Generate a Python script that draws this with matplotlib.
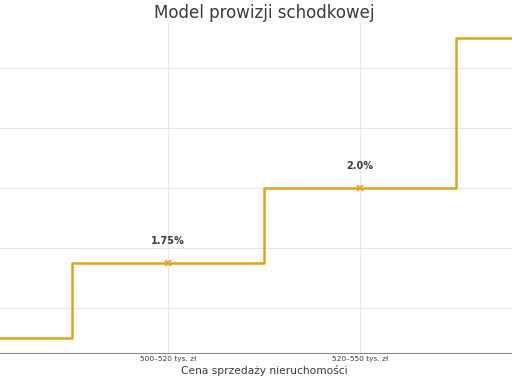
import matplotlib.pyplot as plt

COLORS = {
    "line": "#E3A21A",
    "grid": "#E6E6E6",
    "spine": "#8C8C8C",
    "text": "#3A3A3A",
}

tiers = ["<500 tys. zł", "500–520 tys. zł", "520–550 tys. zł", ">550 tys. zł"]
rates = [1.5, 1.75, 2.0, 2.5]
rate_labels = ["", "1.75%", "2.0%", ""]
tick_labels = ["500–520 tys. zł", "520–550 tys. zł"]

positions = list(range(len(tiers)))

fig = plt.figure(figsize=(5.12, 3.84), dpi=100)
ax = fig.add_axes([-120 / 512, 31 / 384, 768 / 512, 330 / 384])

ax.step(positions, rates, where="mid", color=COLORS["line"], linewidth=1.8)
ax.plot(positions, rates, linestyle="none", marker="x", markersize=5,
        markeredgewidth=1.2, color=COLORS["line"])
for x, y, label in zip(positions, rates, rate_labels):
    if label:
        ax.annotate(label, xy=(x, y), xytext=(0, 12.5), textcoords="offset points",
                    ha="center", va="bottom", fontsize=7, fontweight="bold",
                    color=COLORS["text"])

ax.set_xlim(-0.5, 3.5)
ax.set_ylim(1.45, 2.55)
ax.set_xticks([1, 2])
ax.set_xticklabels(tick_labels, fontsize=5.3, color=COLORS["text"])
ax.set_yticks([1.6, 1.8, 2.0, 2.2, 2.4])
ax.grid(True, color=COLORS["grid"], linewidth=0.7)
ax.set_axisbelow(True)
ax.spines[["top", "right"]].set_visible(False)
ax.spines[["left", "bottom"]].set_color(COLORS["spine"])
ax.tick_params(axis="x", length=0, pad=2.5, labelcolor=COLORS["text"])
ax.tick_params(axis="y", length=0, labelleft=False)

ax.set_xlabel("Cena sprzedaży nieruchomości", fontsize=7.7,
              color=COLORS["text"], labelpad=1.5)
ax.set_title("Model prowizji schodkowej", fontsize=12, color=COLORS["text"],
             pad=3.5)

fig.savefig("out.png", dpi=100)
